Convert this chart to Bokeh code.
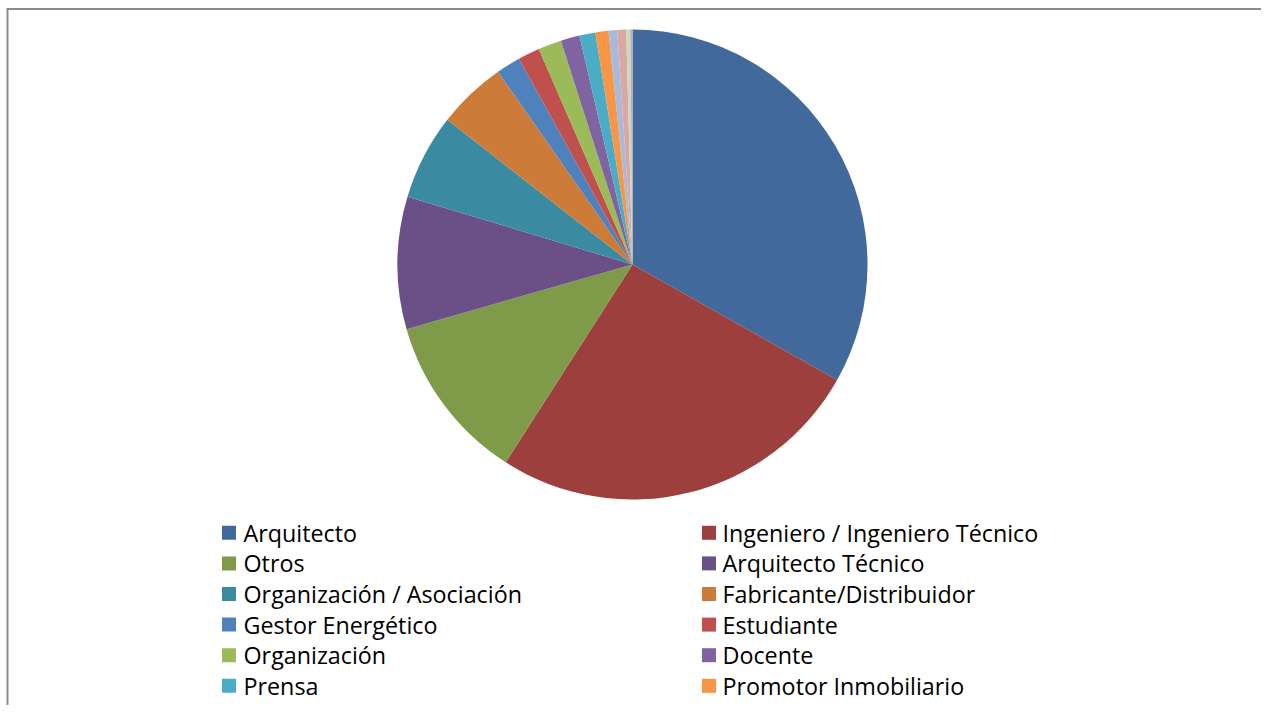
import numpy as np
from bokeh.plotting import figure
from bokeh.models import Range1d, ColumnDataSource
from bokeh.core.properties import value
from bokeh.embed import file_html
from bokeh.resources import INLINE

# ---- data (percent of respondents) ----
categories = ["Arquitecto", "Ingeniero / Ingeniero Técnico", "Otros", "Arquitecto Técnico",
              "Organización / Asociación", "Fabricante/Distribuidor", "Gestor Energético",
              "Estudiante", "Organización", "Docente", "Prensa", "Promotor Inmobiliario"]
values = [33.2, 25.9, 11.5, 9.1, 5.9, 4.75, 1.67, 1.5, 1.6, 1.3, 1.1, 0.9]
# remaining small slices whose legend entries are cut off in the original
extra_values = [0.6, 0.6, 0.28, 0.15]

colors = ["#41699B", "#9C3F3D", "#7F9A48", "#6A5087", "#3A8BA1", "#CC7C38",
          "#4F81BD", "#C0504D", "#9BBB59", "#8064A2", "#4BACC6", "#F79646"]
extra_colors = ["#A8B9DA", "#D9A7A6", "#CCDBAB", "#B8A9CB"]

W, H = 1261, 705
p = figure(width=W, height=H, output_backend="svg", toolbar_location=None,
           x_range=Range1d(0, W), y_range=Range1d(0, H), min_border=0)
p.axis.visible = False
p.grid.visible = False
p.outline_line_color = None
p.background_fill_color = "white"
p.border_fill_color = "white"

# border (top and left visible; rest clipped in original)
p.segment(x0=[7, 6], y0=[0, H - 8.5], x1=[7, W], y1=[H - 8.5, H - 8.5],
          line_color="#8C8C8C", line_width=2)

# pie
all_vals = np.array(values + extra_values, dtype=float)
all_cols = colors + extra_colors
frac = all_vals / all_vals.sum()
cum = np.concatenate([[0], np.cumsum(frac)])
start = np.pi / 2 - cum[:-1] * 2 * np.pi
end = np.pi / 2 - cum[1:] * 2 * np.pi
cx, cy, r = 632, H - 264, 235
src = ColumnDataSource(dict(start=start, end=end, color=all_cols))
p.wedge(x=cx, y=cy, radius=r, start_angle="start", end_angle="end",
        direction="clock", fill_color="color", line_color=None, source=src)

# legend (two columns, row-wise)
n = len(categories)
idx = np.arange(n)
col = idx % 2
row = idx // 2
sq_x = np.where(col == 0, 228.5, 708.5)
tx_x = np.where(col == 0, 243, 722)
row_y = H - (532.3 + row * 30.6)
lsrc = ColumnDataSource(dict(sx=sq_x, tx=tx_x, y=row_y, color=colors, label=categories))
p.rect(x="sx", y="y", width=14, height=14, fill_color="color", line_color=None, source=lsrc)
p.text(x="tx", y="y", text="label", source=lsrc, text_font=value("Open Sans"),
       text_font_size="23.3px", text_baseline="middle", text_align="left", text_color="#000000")

open("out.html", "w").write(file_html(p, INLINE))
